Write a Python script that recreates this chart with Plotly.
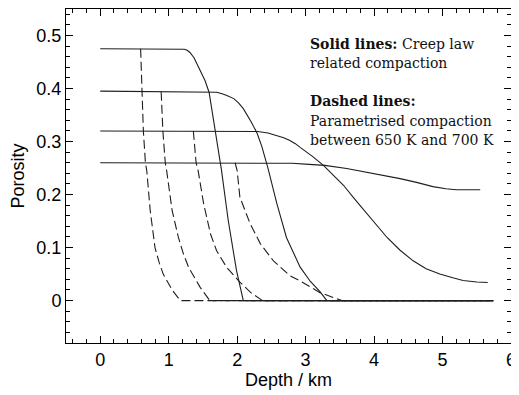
import plotly.graph_objects as go

# Solid lines: creep law related compaction (depth km, porosity)
solid1_depth = [0, 1.19, 1.23, 1.27, 1.31, 1.37, 1.43, 1.53, 1.59, 1.68, 1.77, 1.87, 1.99, 2.09, 5.74]
solid1_poro = [0.475, 0.475, 0.474, 0.472, 0.468, 0.458, 0.443, 0.415, 0.393, 0.32, 0.247, 0.151, 0.057, 0.0, 0.0]

solid2_depth = [0, 1.62, 1.70, 1.78, 1.85, 1.95, 2.02, 2.09, 2.15, 2.21, 2.29, 2.36, 2.45, 2.58, 2.72, 2.82, 2.92, 3.07, 3.21, 3.31, 5.74]
solid2_poro = [0.395, 0.394, 0.393, 0.390, 0.387, 0.381, 0.373, 0.362, 0.350, 0.336, 0.316, 0.291, 0.250, 0.183, 0.119, 0.09, 0.063, 0.036, 0.017, 0.0, 0.0]

solid3_depth = [0, 2.3, 2.45, 2.58, 2.68, 2.77, 2.85, 2.92, 3.0, 3.1, 3.26, 3.4, 3.55, 3.72, 3.9, 4.05, 4.19, 4.38, 4.57, 4.76, 4.96, 5.15, 5.3, 5.5, 5.66]
solid3_poro = [0.32, 0.319, 0.316, 0.311, 0.307, 0.302, 0.296, 0.289, 0.282, 0.272, 0.255, 0.237, 0.218, 0.191, 0.164, 0.14, 0.119, 0.095, 0.075, 0.06, 0.05, 0.043, 0.038, 0.035, 0.034]

solid4_depth = [0, 2.8, 3.05, 3.28, 3.6, 3.9, 4.15, 4.38, 4.62, 4.86, 5.05, 5.2, 5.55]
solid4_poro = [0.26, 0.259, 0.257, 0.255, 0.249, 0.242, 0.236, 0.23, 0.223, 0.215, 0.211, 0.209, 0.209]

# Dashed lines: parametrised compaction between 650 K and 700 K
dash1_depth = [0.59, 0.61, 0.63, 0.66, 0.68, 0.73, 0.80, 0.86, 0.92, 1.05, 1.17, 5.74]
dash1_poro = [0.475, 0.395, 0.32, 0.26, 0.245, 0.17, 0.10, 0.072, 0.05, 0.02, 0.0, 0.0]

dash2_depth = [0.89, 0.915, 0.95, 0.97, 1.05, 1.14, 1.21, 1.29, 1.46, 1.6, 5.74]
dash2_poro = [0.394, 0.32, 0.26, 0.245, 0.17, 0.12, 0.09, 0.063, 0.025, 0.0, 0.0]

dash3_depth = [1.36, 1.40, 1.43, 1.51, 1.61, 1.70, 1.85, 2.04, 2.20, 2.37, 5.74]
dash3_poro = [0.32, 0.26, 0.245, 0.183, 0.126, 0.094, 0.062, 0.035, 0.015, 0.0, 0.0]

dash4_depth = [1.97, 2.0, 2.04, 2.10, 2.19, 2.34, 2.53, 2.77, 2.92, 3.21, 3.53, 5.74]
dash4_poro = [0.26, 0.245, 0.195, 0.175, 0.145, 0.107, 0.075, 0.047, 0.037, 0.015, 0.0, 0.0]

note_lines = [
    "<b>Solid lines:</b> Creep law",
    "related compaction",
    "<b>Dashed lines:</b>",
    "Parametrised compaction",
    "between 650 K and 700 K",
]
note_y_px = [43.5, 63, 101, 121, 140]

LINE_COLOR = "#1e1e1e"

fig = go.Figure()
for d, p in [(solid1_depth, solid1_poro), (solid2_depth, solid2_poro),
             (solid3_depth, solid3_poro), (solid4_depth, solid4_poro)]:
    fig.add_trace(go.Scatter(x=d, y=p, mode="lines",
                             line=dict(color=LINE_COLOR, width=1.1),
                             showlegend=False, hoverinfo="skip"))
for d, p in [(dash1_depth, dash1_poro), (dash2_depth, dash2_poro),
             (dash3_depth, dash3_poro), (dash4_depth, dash4_poro)]:
    fig.add_trace(go.Scatter(x=d, y=p, mode="lines",
                             line=dict(color=LINE_COLOR, width=1.1, dash="9px,4px"),
                             showlegend=False, hoverinfo="skip"))

# page body has an 8px margin, so the figure is offset by (8, 8)
OFF = 8
W, H = 519 - OFF, 395 - OFF
ML, MR, MT, MB = 66 - OFF, 8, 9 - OFF, 52
ph = H - MT - MB
pw = W - ML - MR
for txt, ypx in zip(note_lines, note_y_px):
    fig.add_annotation(text=txt, xref="paper", yref="paper",
                       x=(308 - 66) / pw, y=(343 - ypx) / ph,
                       xanchor="left", yanchor="middle", showarrow=False,
                       font=dict(family="DejaVu Serif", size=14, color="#111"))

axis_common = dict(
    showgrid=False, zeroline=False, showline=True, linecolor="black", linewidth=1,
    mirror="ticks", ticks="inside", ticklen=7, tickcolor="black", tickwidth=1,
    tickfont=dict(family="Liberation Sans", size=18, color="black"),
)
fig.update_xaxes(range=[-0.5, 6], dtick=1, tick0=0,
                 minor=dict(ticks="inside", ticklen=4, dtick=0.2, tick0=0, tickcolor="black"),
                 title=dict(text="Depth / km", font=dict(family="Liberation Sans", size=18, color="black"), standoff=4),
                 **axis_common)
fig.update_yaxes(range=[-0.08, 0.55], dtick=0.1, tick0=0,
                 minor=dict(ticks="inside", ticklen=4, dtick=0.02, tick0=0, tickcolor="black"),
                 title=dict(text="Porosity", font=dict(family="Liberation Sans", size=18, color="black"), standoff=9),
                 **axis_common)
fig.update_layout(width=W, height=H, margin=dict(l=ML, r=MR, t=MT, b=MB, autoexpand=False),
                  paper_bgcolor="white", plot_bgcolor="white")
fig.write_html("out.html")
